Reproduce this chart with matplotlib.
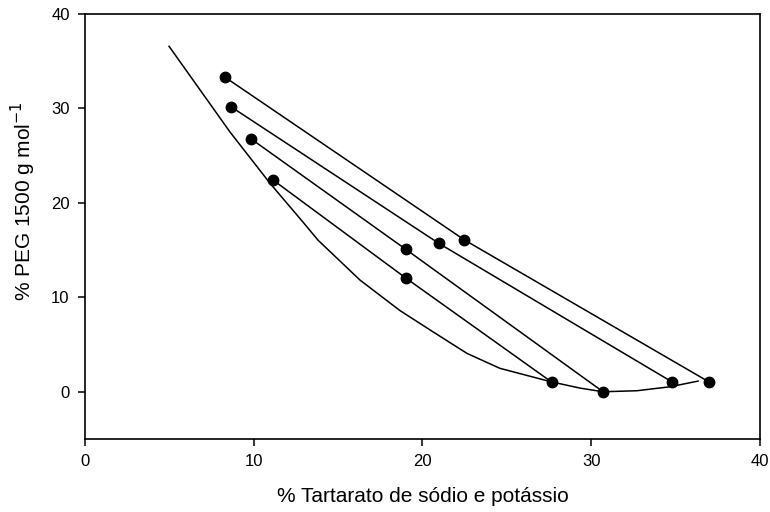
import matplotlib
matplotlib.use("Agg")
import matplotlib.pyplot as plt

plt.rcParams['font.family'] = ['Liberation Sans', 'DejaVu Sans']

# binodal curve
curve_x = [4.98, 8.59, 10.96, 12.92, 13.81, 16.30, 18.67, 20.62, 22.64,
           24.59, 27.61, 29.33, 30.70, 32.71, 34.67, 36.33]
curve_y = [36.58, 27.51, 22.08, 17.96, 16.05, 11.82, 8.59, 6.35, 4.06,
           2.48, 1.06, 0.39, 0.0, 0.11, 0.53, 1.13]

# tie lines: top phase, overall composition, bottom phase
tie_x = [[8.30, 22.48, 36.99],
         [8.63, 20.98, 34.80],
         [9.82, 19.02, 30.70],
         [11.16, 19.02, 27.65]]
tie_y = [[33.3, 16.08, 1.03],
         [30.2, 15.70, 1.03],
         [26.8, 15.07, 0.0],
         [22.4, 12.03, 1.03]]

fig = plt.figure(figsize=(7.7, 5.12), dpi=100)
ax = fig.add_axes([0.1104, 0.1426, 0.8766, 0.8301])

ax.plot(curve_x, curve_y, color='black', lw=1.1)
for xs, ys in zip(tie_x, tie_y):
    ax.plot(xs, ys, color='black', lw=1.1, marker='o', markersize=7.5)

ax.set_xlim(0, 40)
ax.set_ylim(-5, 40)
ax.set_xticks([0, 10, 20, 30, 40])
ax.set_yticks([0, 10, 20, 30, 40])
ax.tick_params(direction='out', length=5, width=1.1, labelsize=12, pad=6)
for s in ax.spines.values():
    s.set_linewidth(1.2)

ax.set_xlabel('% Tartarato de sódio e potássio', fontsize=15, labelpad=13)
ax.set_ylabel('% PEG 1500 g mol$^{-1}$', fontsize=15)
ax.yaxis.set_label_coords(-0.07, 0.56)

fig.savefig('out.png', dpi=100)
